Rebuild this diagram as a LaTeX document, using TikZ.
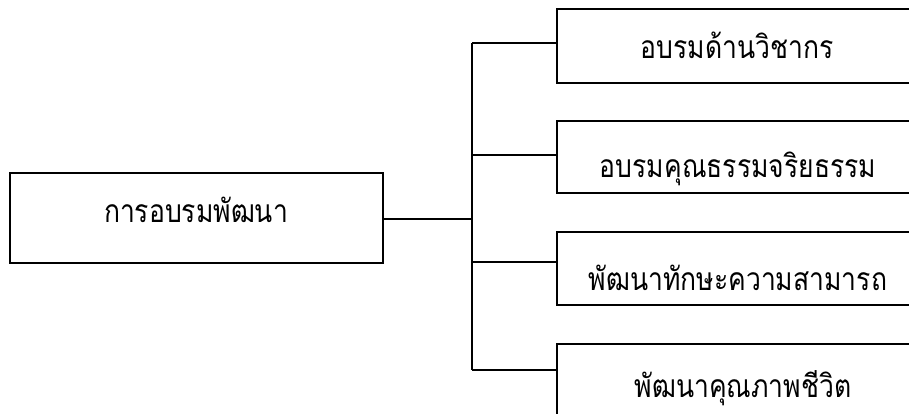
\documentclass[tikz,border=0pt]{standalone}
\usepackage{fontspec}
\newfontfamily\thaifont[Script=Thai]{Loma}
\begin{document}
\begin{tikzpicture}[x=1pt,y=1pt,
  box/.style={draw=black,line width=1.3pt,inner sep=0pt},
  lbl/.style={font=\thaifont\fontsize{26.5}{30}\selectfont,anchor=base,inner sep=0pt,yscale=1.2,transform shape},
  link/.style={draw=black,line width=1.3pt}]
\useasboundingbox (0,0) rectangle (909,-414);
\clip (0,0) rectangle (909,-414);
\fill[white] (0,0) rectangle (909,-414);
% left box
\node[box,minimum width=373pt,minimum height=90pt] (L) at (196.5,-218) {};
\node[lbl] (Lt) at (196,-222) {การอบรมพัฒนา};
% right boxes
\node[box,minimum width=362pt,minimum height=74pt] (B1) at (738,-46) {};
\node[box,minimum width=362pt,minimum height=72pt] (B2) at (738,-157) {};
\node[box,minimum width=362pt,minimum height=73pt] (B3) at (738,-268.5) {};
\node[box,minimum width=362pt,minimum height=74pt] (B4) at (738,-381) {};
\node[lbl] (T1) at (737,-59) {อบรมด้านวิชากร};
\node[lbl] (T2) at (738,-177) {อบรมคุณธรรมจริยธรรม};
\node[lbl] (T3) at (738,-290) {พัฒนาทักษะความสามารถ};
\node[lbl] (T4) at (743,-397) {พัฒนาคุณภาพชีวิต};
% connectors
\coordinate (J) at (472,-219);
\coordinate (J1) at (472,-43);
\coordinate (J2) at (472,-155);
\coordinate (J3) at (472,-262);
\coordinate (J4) at (472,-370);
\draw[link] (L.east |- J) -- (J);
\draw[link] (J1) -- (J4);
\draw[link] (J1) -- (B1.west |- J1);
\draw[link] (J2) -- (B2.west |- J2);
\draw[link] (J3) -- (B3.west |- J3);
\draw[link] (J4) -- (B4.west |- J4);
\end{tikzpicture}
\end{document}
